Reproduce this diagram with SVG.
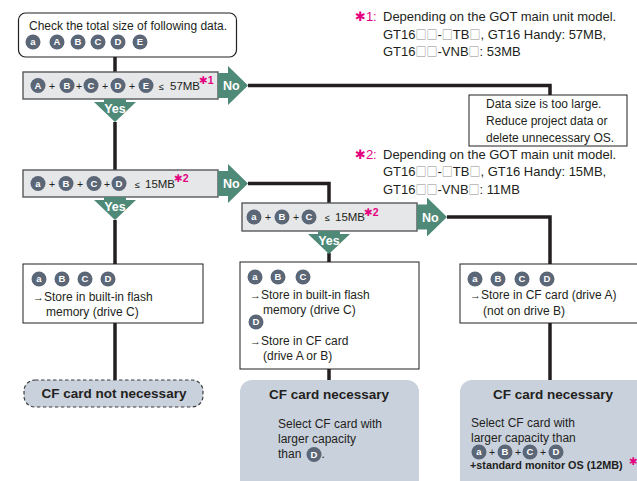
<svg xmlns="http://www.w3.org/2000/svg" width="637" height="481" viewBox="0 0 637 481">
<defs>
<style>
text{font-family:"Liberation Sans","DejaVu Sans",Arial,sans-serif;fill:#231f20}
.t{font-size:12px}
.fn{font-size:13px}
.pk{fill:#e4007f}
.sup{font-size:10.5px;font-weight:bold;fill:#e4007f}
.sq{font-family:"Noto Sans CJK JP","DejaVu Sans",sans-serif;font-size:11px;fill:#8a8a8a}
.bd{fill:#5b6677}
.bl{font-size:9.5px;font-weight:bold;fill:#fff;text-anchor:middle}
.pl{font-size:10.5px;text-anchor:middle}
.le{font-size:9px}
.mb{font-size:11.5px}
.arw{font-size:11px}
.dec{fill:#e6e7e8;stroke:#58595b;stroke-width:1.4}
.box{fill:#fff;stroke:#231f20;stroke-width:1}
.res{fill:#c9d1dd}
.arr{fill:#4e8a77}
.at{font-size:12.5px;font-weight:bold;fill:#fff}
.hd{font-size:13.5px;font-weight:bold;text-anchor:middle}
.conn{fill:none;stroke:#231f20;stroke-width:3.5}
</style>
<path id="no" d="M0,-12.5H10V-19.5L30,0L10,19.5V12.5H0Z"/>
<path id="yes" d="M-11,0H11V3H21L0,23L-21,3H-11Z"/>
</defs>

<!-- connectors -->
<g id="connectors">
<path class="conn" d="M115,57V72"/>
<path class="conn" d="M248,85.5H550V95"/>
<path class="conn" d="M115,122V170"/>
<path class="conn" d="M248,183.5H329V203"/>
<path class="conn" d="M115,220V264"/>
<path class="conn" d="M115,323V380"/>
<path class="conn" d="M329,253V262"/>
<path class="conn" d="M329,369V380"/>
<path class="conn" d="M447,217H550V264"/>
<path class="conn" d="M550,323V380"/>
</g>

<!-- start: data list -->
<g id="start">
<rect x="18.5" y="13" width="218" height="44" rx="7" fill="#fff" stroke="#231f20" stroke-width="1.2"/>
<text class="t" x="29" y="29.5">Check the total size of following data.</text>
<circle class="bd" cx="33" cy="42" r="7.5"/><text class="bl" x="33" y="45.4">a</text>
<circle class="bd" cx="57" cy="42" r="7.5"/><text class="bl" x="57" y="45.4">A</text>
<circle class="bd" cx="78" cy="42" r="7.5"/><text class="bl" x="78" y="45.4">B</text>
<circle class="bd" cx="98" cy="42" r="7.5"/><text class="bl" x="98" y="45.4">C</text>
<circle class="bd" cx="118" cy="42" r="7.5"/><text class="bl" x="118" y="45.4">D</text>
<circle class="bd" cx="140" cy="42" r="7.5"/><text class="bl" x="140" y="45.4">E</text>
</g>

<!-- decision 1 -->
<g id="decision1">
<rect class="dec" x="23" y="72" width="195" height="27"/>
<circle class="bd" cx="38" cy="85.5" r="7.5"/><text class="bl" x="38" y="88.9">A</text>
<text class="pl" x="52" y="89.5">+</text>
<circle class="bd" cx="67" cy="85.5" r="7.5"/><text class="bl" x="67" y="88.9">B</text>
<text class="pl" x="79" y="89.5">+</text>
<circle class="bd" cx="91" cy="85.5" r="7.5"/><text class="bl" x="91" y="88.9">C</text>
<text class="pl" x="105" y="89.5">+</text>
<circle class="bd" cx="118" cy="85.5" r="7.5"/><text class="bl" x="118" y="88.9">D</text>
<text class="pl" x="132" y="89.5">+</text>
<circle class="bd" cx="146" cy="85.5" r="7.5"/><text class="bl" x="146" y="88.9">E</text>
<text class="le" x="159" y="89.5">≤</text>
<text class="mb" x="170" y="89.5">57MB</text>
<text class="sup" x="199" y="84">✱1</text>
<use href="#no" class="arr" x="218" y="85.5"/>
<text class="at" x="223" y="90">No</text>
<use href="#yes" class="arr" x="115" y="99"/>
<text class="at" x="115" y="113" text-anchor="middle">Yes</text>
</g>

<!-- too large -->
<g id="too-large">
<rect class="box" x="469" y="95" width="158" height="51"/>
<text class="t" x="486" y="107.5">Data size is too large.</text>
<text class="t" x="486" y="124.5">Reduce project data or</text>
<text class="t" x="486" y="141.5">delete unnecessary OS.</text>
</g>

<!-- note 1 -->
<g id="note1">
<text class="fn pk" x="355" y="21">✱1:</text>
<text class="fn" x="383" y="21">Depending on the GOT main unit model.</text>
<text class="fn" x="383" y="38.5">GT16<tspan class="sq">□□</tspan>-<tspan class="sq">□</tspan>TB<tspan class="sq">□</tspan>, GT16 Handy: 57MB,</text>
<text class="fn" x="383" y="56">GT16<tspan class="sq">□□</tspan>-VNB<tspan class="sq">□</tspan>: 53MB</text>
</g>

<!-- decision 2 -->
<g id="decision2">
<rect class="dec" x="23" y="170" width="195" height="27"/>
<circle class="bd" cx="38" cy="183.5" r="7.5"/><text class="bl" x="38" y="186.9">a</text>
<text class="pl" x="52" y="187.5">+</text>
<circle class="bd" cx="66" cy="183.5" r="7.5"/><text class="bl" x="66" y="186.9">B</text>
<text class="pl" x="80" y="187.5">+</text>
<circle class="bd" cx="94" cy="183.5" r="7.5"/><text class="bl" x="94" y="186.9">C</text>
<text class="pl" x="107" y="187.5">+</text>
<circle class="bd" cx="119" cy="183.5" r="7.5"/><text class="bl" x="119" y="186.9">D</text>
<text class="le" x="135" y="187.5">≤</text>
<text class="mb" x="145" y="187.5">15MB</text>
<text class="sup" x="174" y="182">✱2</text>
<use href="#no" class="arr" x="218" y="183.5"/>
<text class="at" x="223" y="188">No</text>
<use href="#yes" class="arr" x="115" y="197"/>
<text class="at" x="115" y="211" text-anchor="middle">Yes</text>
</g>

<!-- note 2 -->
<g id="note2">
<text class="fn pk" x="355" y="158.5">✱2:</text>
<text class="fn" x="383" y="158.5">Depending on the GOT main unit model.</text>
<text class="fn" x="383" y="176">GT16<tspan class="sq">□□</tspan>-<tspan class="sq">□</tspan>TB<tspan class="sq">□</tspan>, GT16 Handy: 15MB,</text>
<text class="fn" x="383" y="193.5">GT16<tspan class="sq">□□</tspan>-VNB<tspan class="sq">□</tspan>: 11MB</text>
</g>

<!-- decision 3 -->
<g id="decision3">
<rect class="dec" x="242" y="203" width="175" height="28"/>
<circle class="bd" cx="254" cy="217" r="7.5"/><text class="bl" x="254" y="220.4">a</text>
<text class="pl" x="268" y="221">+</text>
<circle class="bd" cx="282" cy="217" r="7.5"/><text class="bl" x="282" y="220.4">B</text>
<text class="pl" x="296" y="221">+</text>
<circle class="bd" cx="309" cy="217" r="7.5"/><text class="bl" x="309" y="220.4">C</text>
<text class="le" x="325" y="221">≤</text>
<text class="mb" x="335" y="221">15MB</text>
<text class="sup" x="364" y="215.5">✱2</text>
<use href="#no" class="arr" x="417" y="217"/>
<text class="at" x="422" y="221.5">No</text>
<use href="#yes" class="arr" x="329" y="231"/>
<text class="at" x="329" y="245" text-anchor="middle">Yes</text>
</g>

<!-- store: flash only -->
<g id="store-flash">
<rect class="box" x="23" y="264" width="180" height="59"/>
<circle class="bd" cx="39" cy="279" r="7.5"/><text class="bl" x="39" y="282.4">a</text>
<circle class="bd" cx="62" cy="279" r="7.5"/><text class="bl" x="62" y="282.4">B</text>
<circle class="bd" cx="85" cy="279" r="7.5"/><text class="bl" x="85" y="282.4">C</text>
<circle class="bd" cx="108" cy="279" r="7.5"/><text class="bl" x="108" y="282.4">D</text>
<text class="t" x="33" y="300.5"><tspan class="arw">→</tspan>Store in built-in flash</text>
<text class="t" x="46" y="316">memory (drive C)</text>
</g>

<!-- store: flash + CF -->
<g id="store-mixed">
<rect class="box" x="240" y="262" width="179" height="107"/>
<circle class="bd" cx="255" cy="277" r="7.5"/><text class="bl" x="255" y="280.4">a</text>
<circle class="bd" cx="278" cy="277" r="7.5"/><text class="bl" x="278" y="280.4">B</text>
<circle class="bd" cx="303" cy="277" r="7.5"/><text class="bl" x="303" y="280.4">C</text>
<text class="t" x="250" y="299"><tspan class="arw">→</tspan>Store in built-in flash</text>
<text class="t" x="263" y="313.5">memory (drive C)</text>
<circle class="bd" cx="256" cy="322" r="7.5"/><text class="bl" x="256" y="325.4">D</text>
<text class="t" x="250" y="345"><tspan class="arw">→</tspan>Store in CF card</text>
<text class="t" x="263" y="359.5">(drive A or B)</text>
</g>

<!-- store: CF only -->
<g id="store-cf">
<rect class="box" x="460" y="264" width="190" height="59"/>
<circle class="bd" cx="475" cy="279" r="7.5"/><text class="bl" x="475" y="282.4">a</text>
<circle class="bd" cx="498" cy="279" r="7.5"/><text class="bl" x="498" y="282.4">B</text>
<circle class="bd" cx="522" cy="279" r="7.5"/><text class="bl" x="522" y="282.4">C</text>
<circle class="bd" cx="547" cy="279" r="7.5"/><text class="bl" x="547" y="282.4">D</text>
<text class="t" x="470" y="299"><tspan class="arw">→</tspan>Store in CF card (drive A)</text>
<text class="t" x="483" y="314.5">(not on drive B)</text>
</g>

<!-- results -->
<g id="result-none">
<rect class="res" x="24" y="380" width="179" height="27" rx="11" stroke="#3c3c3c" stroke-width="1.2" stroke-dasharray="3.5,2.5"/>
<text class="hd" x="114" y="398">CF card not necessary</text>
</g>

<g id="result-cf-d">
<rect class="res" x="240" y="380" width="179" height="125" rx="12"/>
<text class="hd" x="329" y="398.5">CF card necessary</text>
<text class="t" x="278" y="428">Select CF card with</text>
<text class="t" x="278" y="442.5">larger capacity</text>
<text class="t" x="278" y="458">than</text>
<circle class="bd" cx="314" cy="454.5" r="7.5"/><text class="bl" x="314" y="457.9">D</text>
<text class="t" x="321.5" y="458">.</text>
</g>

<g id="result-cf-all">
<rect class="res" x="460" y="380" width="190" height="125" rx="12"/>
<text class="hd" x="553" y="399">CF card necessary</text>
<text class="t" x="471" y="427">Select CF card with</text>
<text class="t" x="471" y="442">larger capacity than</text>
<circle class="bd" cx="479" cy="452" r="7.5"/><text class="bl" x="479" y="455.4">a</text>
<text class="pl" x="492" y="456">+</text>
<circle class="bd" cx="505" cy="452" r="7.5"/><text class="bl" x="505" y="455.4">B</text>
<text class="pl" x="518" y="456">+</text>
<circle class="bd" cx="530" cy="452" r="7.5"/><text class="bl" x="530" y="455.4">C</text>
<text class="pl" x="543" y="456">+</text>
<circle class="bd" cx="556" cy="452" r="7.5"/><text class="bl" x="556" y="455.4">D</text>
<text x="470" y="468.5" font-size="10.8" font-weight="bold">+standard monitor OS (12MB)</text>
<text class="sup" x="629" y="465">✱</text>
</g>
</svg>
